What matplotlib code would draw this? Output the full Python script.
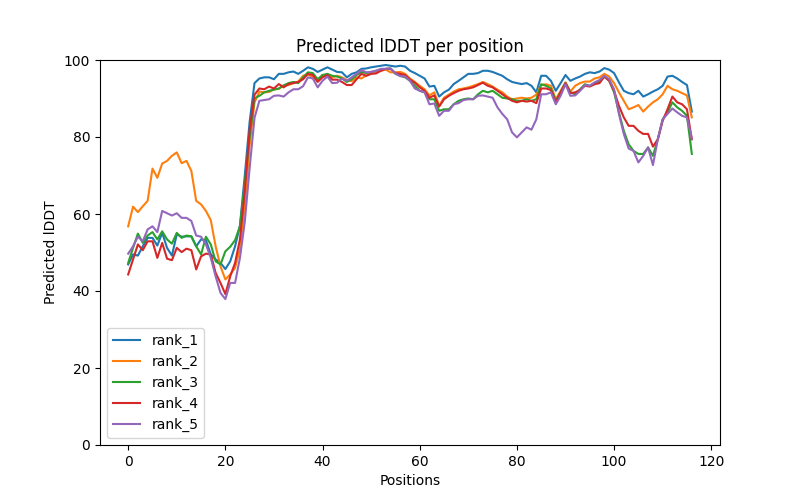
import numpy as np
import matplotlib
matplotlib.use("Agg")
import matplotlib.pyplot as plt

# per-position lDDT for each ranked model
rank_1 = [46.9, 49.5, 49.2, 51.6, 53.8, 53.8, 51.8, 55.1, 51.2, 49.2, 54.7, 54.1, 54.2, 54.2, 51.6, 53.4, 53.2, 49.5, 48.2, 47.3, 45.7, 47.7, 51.6, 57.0, 70.0, 84.0, 94.0, 95.2,
          95.5, 95.5, 95.0, 96.4, 96.4, 96.8, 97.0, 96.4, 97.2, 98.1, 97.7, 96.9, 97.5, 98.1, 97.5, 96.9, 96.8, 95.5, 96.4, 96.8, 97.7, 97.8, 98.1, 98.3, 98.5, 98.7,
          98.5, 98.3, 98.5, 98.3, 97.2, 96.6, 95.9, 95.2, 93.1, 93.3, 90.5, 91.6, 92.3, 93.75, 94.6, 95.5, 96.4, 96.4, 96.6, 97.2, 97.2, 96.9, 96.4, 95.9, 95.0, 94.3, 94.0, 93.75, 94.0, 93.3, 91.6,
          95.9, 95.9, 94.6, 92.0, 94.0, 96.1, 94.6, 95.2, 95.7, 96.4, 96.8, 96.6, 97.0, 97.9, 97.5, 96.6, 94.2, 92.0, 91.4, 91.1, 92.0, 90.5, 91.1, 91.8, 92.4, 93.3, 95.7, 95.9, 95.2, 94.3, 93.5, 86.6]

rank_2 = [56.8, 61.9, 60.5, 62.0, 63.4, 71.8, 69.4, 73.1, 73.8, 75.1, 76.0, 73.2, 73.8, 71.2, 63.4, 62.5, 60.8, 58.4, 51.6, 46.4, 43.0, 44.3, 46.0, 51.0, 62.0, 78.0, 89.0, 91.8,
          91.6, 91.7, 92.4, 92.5, 93.4, 93.5, 94.0, 94.4, 95.9, 96.3, 95.5, 94.6, 96.1, 95.9, 95.5, 95.9, 95.5, 94.8, 94.5, 95.5, 95.2, 96.0, 96.5, 96.8, 97.2, 97.5,
          96.8, 96.8, 96.9, 96.4, 95.2, 94.3, 93.3, 92.4, 90.8, 91.6, 88.1, 90.2, 91.0, 91.8, 92.4, 92.6, 92.9, 93.3, 93.75, 94.3, 93.75, 93.1, 92.3, 91.6, 90.5, 89.8, 90.0, 90.2, 90.0, 90.2, 91.0,
          93.5, 93.7, 93.3, 89.8, 92.0, 94.2, 91.8, 93.3, 94.0, 94.4, 94.4, 95.2, 95.5, 96.4, 95.7, 94.0, 91.6, 89.4, 87.2, 87.7, 88.3, 86.6, 87.9, 89.0, 89.8, 91.1, 93.3, 92.4, 92.0, 91.4, 90.8, 85.1]

rank_3 = [47.3, 51.2, 54.9, 52.5, 54.4, 55.3, 53.4, 55.5, 53.4, 52.3, 55.1, 53.8, 54.4, 54.2, 51.6, 49.5, 54.1, 52.1, 47.7, 46.9, 50.3, 51.5, 53.2, 56.8, 68.0, 80.0, 90.0, 90.7,
          91.6, 92.0, 92.3, 92.6, 93.4, 94.0, 94.3, 94.0, 95.5, 96.8, 96.6, 95.0, 96.1, 96.4, 95.9, 95.7, 95.2, 94.3, 95.0, 96.1, 96.9, 96.6, 96.9, 97.2, 97.4, 97.7,
          97.8, 96.4, 95.9, 95.5, 94.6, 93.3, 92.0, 91.6, 89.8, 89.8, 86.8, 87.2, 87.2, 88.5, 89.4, 89.8, 90.0, 89.8, 91.1, 92.0, 91.6, 92.0, 91.1, 90.2, 90.0, 89.8, 89.4, 89.4, 89.8, 89.4, 89.8,
          93.7, 93.3, 92.6, 89.4, 91.6, 94.0, 91.6, 91.1, 92.4, 93.7, 93.3, 94.0, 94.4, 95.7, 94.6, 91.6, 86.4, 81.6, 78.1, 76.4, 75.6, 75.6, 77.3, 75.1, 79.4, 84.6, 86.4, 89.0, 87.7, 86.8, 85.5, 75.6]

rank_4 = [44.3, 48.2, 52.1, 50.6, 52.9, 52.9, 48.6, 52.5, 48.4, 48.0, 51.2, 50.1, 51.0, 50.6, 45.6, 49.0, 49.7, 49.5, 44.7, 42.1, 39.2, 43.8, 47.3, 53.4, 66.0, 82.0, 91.0, 92.6,
          92.4, 93.1, 92.6, 93.75, 92.9, 93.75, 94.0, 94.3, 95.0, 96.4, 96.1, 94.3, 95.5, 96.1, 94.9, 94.9, 94.3, 93.5, 93.5, 95.0, 96.4, 95.9, 96.4, 96.5, 97.2, 97.7,
          97.7, 96.6, 96.4, 96.1, 94.9, 94.1, 92.9, 92.0, 90.2, 90.8, 87.9, 89.8, 90.7, 91.4, 92.0, 92.4, 92.6, 92.9, 93.5, 94.1, 93.3, 92.9, 92.0, 91.1, 90.2, 89.4, 89.0, 89.4, 89.2, 89.4, 88.8,
          92.6, 92.6, 92.2, 89.0, 91.6, 94.0, 91.4, 91.6, 92.2, 93.3, 93.1, 93.7, 94.0, 95.7, 94.6, 92.0, 88.1, 85.1, 82.9, 82.9, 81.6, 80.8, 80.8, 77.5, 79.4, 84.2, 87.2, 90.5, 89.0, 88.5, 87.2, 79.4]

rank_5 = [49.7, 51.6, 54.1, 52.9, 56.0, 56.8, 55.3, 60.8, 60.2, 59.6, 60.2, 59.0, 59.0, 58.2, 54.4, 54.1, 52.1, 48.6, 43.8, 39.5, 37.9, 42.1, 42.1, 48.6, 58.0, 72.0, 85.0, 89.4,
          89.6, 89.8, 90.7, 90.8, 90.5, 91.6, 92.4, 92.4, 93.2, 95.5, 95.2, 92.9, 94.6, 95.7, 94.0, 94.1, 95.2, 94.6, 95.5, 96.4, 97.4, 96.8, 96.9, 97.2, 97.7, 97.7,
          97.8, 96.5, 95.8, 95.7, 94.6, 92.6, 92.0, 91.6, 88.5, 88.7, 85.5, 86.8, 86.8, 88.5, 88.8, 89.6, 89.8, 89.8, 90.7, 90.8, 90.5, 90.2, 87.7, 86.0, 84.6, 81.2, 79.9, 81.2, 82.5, 81.9, 84.6,
          91.1, 91.1, 91.6, 88.5, 90.7, 93.7, 90.7, 90.8, 92.0, 93.5, 93.3, 94.2, 94.8, 95.9, 95.0, 92.4, 86.0, 80.8, 77.0, 76.4, 73.4, 75.1, 77.3, 72.7, 79.4, 84.6, 86.0, 87.4, 86.4, 85.5, 85.1, 79.6]

ranks = {"rank_1": rank_1, "rank_2": rank_2, "rank_3": rank_3, "rank_4": rank_4, "rank_5": rank_5}

fig = plt.figure(figsize=(8, 5), dpi=100)
for name, vals in ranks.items():
    plt.plot(np.arange(len(vals)), vals, label=name)

plt.title("Predicted lDDT per position")
plt.xlabel("Positions")
plt.ylabel("Predicted lDDT")
plt.ylim(0, 100)
plt.legend(loc="lower left")

plt.savefig("out.png", dpi=100)
